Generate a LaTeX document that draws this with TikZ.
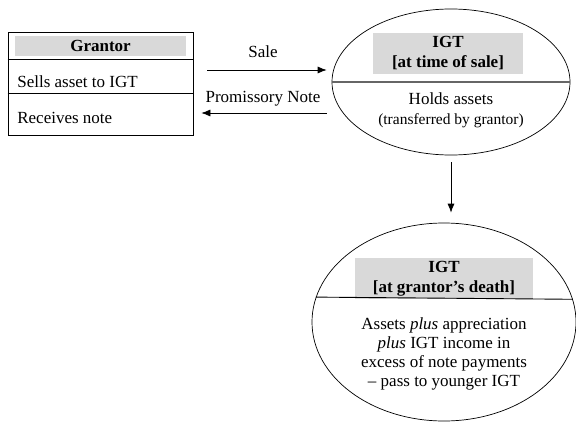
\documentclass[tikz,border=0pt]{standalone}
\usepackage{fontspec}
\setmainfont{Liberation Serif}
\usetikzlibrary{arrows,arrows.meta,shapes}
\newcommand{\bodysize}{\fontsize{17}{20}\selectfont}
\newcommand{\smallsize}{\fontsize{15.5}{17}\selectfont}
\tikzstyle{trust}=[ellipse,draw,inner sep=0pt]
\tikzstyle{header}=[fill=black!15,inner sep=0pt,align=center,font=\bodysize\bfseries]
\tikzstyle{rowtext}=[anchor=base west,inner sep=0pt,font=\bodysize]
\tikzstyle{label}=[anchor=base,inner sep=0pt,font=\bodysize]
\tikzstyle{flow} = [draw,-{Latex[length=9pt,width=7pt]}]

\begin{document}
\begin{tikzpicture}[x=1pt,y=-1pt,line width=0.7pt]
    \useasboundingbox (0,0) rectangle (576,423);
    % First the grantor table
    \node[draw,minimum width=185pt,minimum height=103pt,inner sep=0pt] (grantor) at (100.5,83.5) {};
    \node[header,minimum width=171pt,minimum height=20pt] (grantorHead) at (100.5,46) {Grantor};
    \foreach \y in {59,93}
        \path[draw] (grantor.west |- 0,\y) -- (grantor.east |- 0,\y);
    \node[rowtext] (sells) at (17,87.5) {Sells asset to IGT};
    \node[rowtext] (receives) at (17,123) {Receives note};
    % Then the two trusts
    \node[trust,minimum width=238pt,minimum height=146pt] (igtSale) at (451,82) {};
    \node[trust,minimum width=264pt,minimum height=198pt] (igtDeath) at (444,322) {};
    \node[header,minimum width=150pt,minimum height=41pt] (saleHead) at (448,53.5) {IGT\\{[at time of sale]}};
    \node[header,minimum width=178pt,minimum height=41pt] (deathHead) at (444,278.5) {IGT\\{[at grantor's death]}};
    \path[draw,black!60,line width=1.3pt] (igtSale.west) -- (igtSale.east);
    \path[draw,line width=0.9pt] (igtDeath.169.84) -- (igtDeath.10.16);
    \node[align=center,inner sep=0pt,font=\bodysize] (saleBody) at (451,110) {Holds assets\\{\smallsize(transferred by grantor)}};
    \node[align=center,inner sep=0pt,font=\fontsize{17}{19}\selectfont] (deathBody) at (444,353.5)
        {Assets \textit{plus} appreciation\\\textit{plus} IGT income in\\excess of note payments\\-- pass to younger IGT};
    % Connect them with arrows
    \path[flow,shorten <=14pt,shorten >=5pt] (grantor.east |- 0,70) -- (igtSale.west |- 0,70);
    \path[flow,shorten <=5pt,shorten >=8pt] (igtSale.west |- 0,113) -- (grantor.east |- 0,113);
    \path[flow,shorten <=7pt,shorten >=10pt] (igtSale.south) -- (igtSale.south |- igtDeath.north);
    \node[label] (saleLabel) at (263,57) {Sale};
    \node[label] (noteLabel) at (263,102) {Promissory Note};
\end{tikzpicture}
\end{document}
